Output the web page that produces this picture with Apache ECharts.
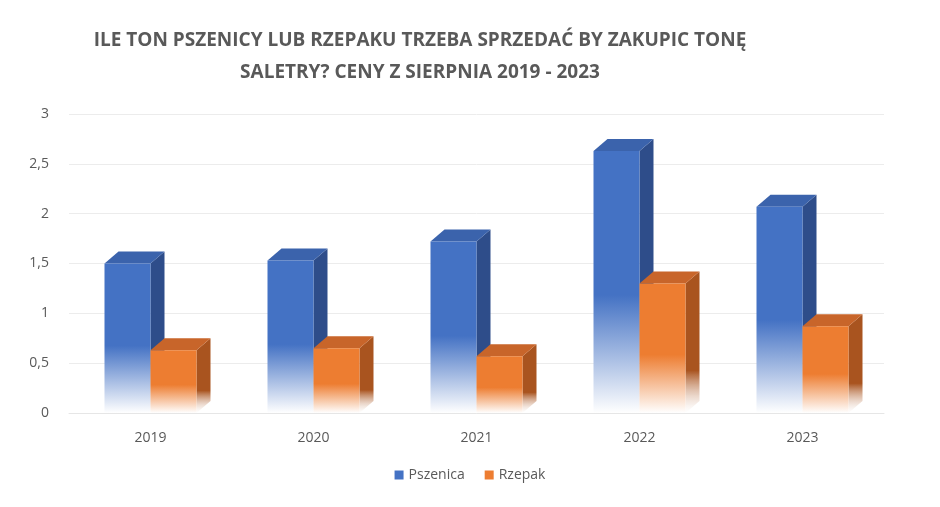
<!DOCTYPE html>
<html><head><meta charset="utf-8">
<script src="https://cdn.jsdelivr.net/npm/echarts@6/dist/echarts.min.js"></script>
<style>html,body{margin:0;padding:0;background:#fff}#c{width:940px;height:507px}</style>
</head><body><div id="c"></div>
<script>
const categories = ['2019','2020','2021','2022','2023'];
const pszenica = [1.50, 1.53, 1.72, 2.63, 2.07];
const rzepak = [0.63, 0.65, 0.57, 1.30, 0.87];
const yTicks = [0, 0.5, 1, 1.5, 2, 2.5, 3];

function bar3d(offsetSign, front, side, top) {
  return function (params, api) {
    const idx = api.value(0), val = api.value(1);
    const p = api.coord([idx, val]);
    const base = api.coord([idx, 0]);
    const w = 46, dx = 14, dy = 12;
    const x0 = offsetSign < 0 ? p[0] - w : p[0];
    const x1 = x0 + w;
    const yt = p[1], yb = base[1];
    return {
      type: 'group',
      children: [
        { type: 'polygon', shape: { points: [[x1, yt], [x1 + dx, yt - dy], [x1 + dx, yb - dy], [x1, yb]] },
          style: { fill: new echarts.graphic.LinearGradient(0, 0, 0, 1, [{offset:0,color:side},{offset:0.7,color:side},{offset:1,color:'rgba(255,255,255,0.3)'}]) } },
        { type: 'polygon', shape: { points: [[x0, yt], [x0 + dx, yt - dy], [x1 + dx, yt - dy], [x1, yt]] },
          style: { fill: top } },
        { type: 'rect', shape: { x: x0, y: yt, width: w, height: yb - yt },
          style: { fill: new echarts.graphic.LinearGradient(0, 0, 0, 1, [{offset:0,color:front},{offset:0.55,color:front},{offset:1,color:'#ffffff'}]) } }
      ]
    };
  };
}

const chart = echarts.init(document.getElementById('c'));
chart.setOption({
  animation: false,
  title: {
    text: 'ILE TON PSZENICY LUB RZEPAKU TRZEBA SPRZEDAĆ BY ZAKUPIC TONĘ\nSALETRY? CENY Z SIERPNIA 2019 - 2023',
    left: 415, top: 20, textAlign: 'center',
    textStyle: { fontFamily: 'Open Sans', fontWeight: 'bold', fontSize: 19, color: '#595959', lineHeight: 32 }
  },
  legend: {
    bottom: 20, left: 'center', icon: 'rect', itemWidth: 9, itemHeight: 9, itemGap: 20,
    textStyle: { fontFamily: 'Open Sans', fontSize: 14, color: '#595959' },
    data: [{name:'Pszenica', itemStyle:{color:'#4472C4'}}, {name:'Rzepak', itemStyle:{color:'#ED7D31'}}]
  },
  grid: { left: 69, right: 56, top: 114, bottom: 94 },
  xAxis: {
    type: 'category', data: categories,
    axisLine: { lineStyle: { color: '#e6e6e6' } }, axisTick: { show: false },
    axisLabel: { fontFamily: 'Open Sans', fontSize: 14, color: '#595959', margin: 18 }
  },
  yAxis: {
    type: 'value', min: 0, max: 3, interval: 0.5,
    axisLabel: { fontFamily: 'Open Sans', fontSize: 14, color: '#595959', margin: 20,
      formatter: v => String(v).replace('.', ',') },
    splitLine: { lineStyle: { color: '#ececec' } }
  },
  series: [
    { name: 'Pszenica', type: 'custom', itemStyle:{color:'#4472C4'},
      renderItem: bar3d(-1, '#4472C4', '#2E4D8A', '#3B63AC'),
      data: pszenica.map((v, i) => [i, v]) },
    { name: 'Rzepak', type: 'custom', itemStyle:{color:'#ED7D31'},
      renderItem: bar3d(1, '#ED7D31', '#A9541F', '#C8652A'),
      data: rzepak.map((v, i) => [i, v]) }
  ]
});
</script></body></html>
